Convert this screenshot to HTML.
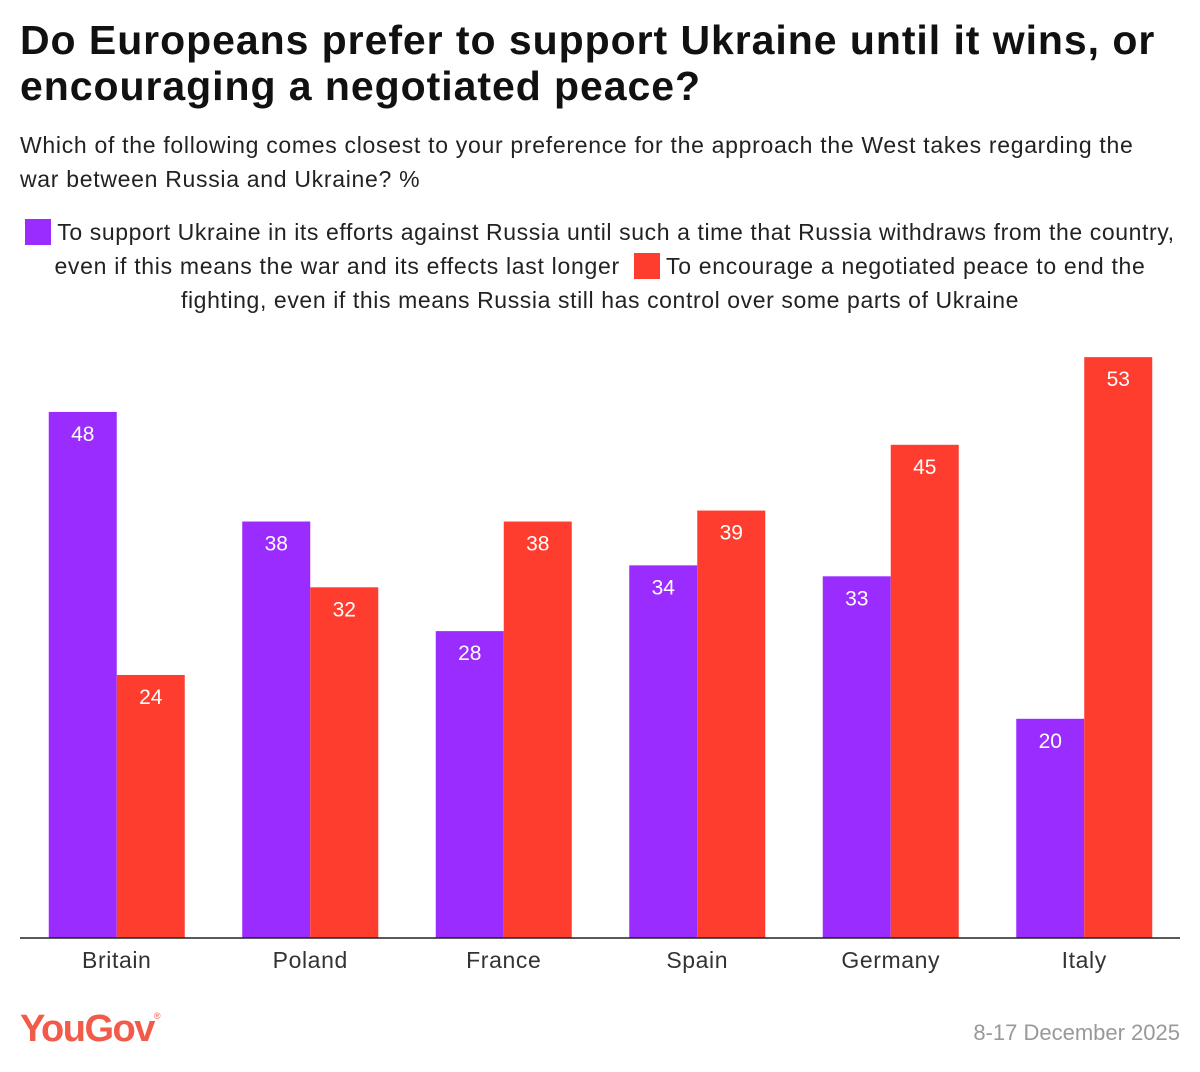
<!DOCTYPE html>
<html><head><meta charset="utf-8">
<style>
body{margin:0;background:#fff;font-family:"Liberation Sans",sans-serif;color:#1a1a1a}
#wrap{position:relative;width:1200px;height:1072px;overflow:hidden}
.t{position:absolute;white-space:nowrap}
h1{position:absolute;left:20px;top:17px;margin:0;font-size:41px;line-height:46px;font-weight:bold;color:#111;letter-spacing:0.95px}
.sub{left:20px;font-size:23px;color:#222;letter-spacing:0.7px}
.leg{font-size:23px;color:#222;width:1200px;text-align:center;left:0;letter-spacing:0.6px}
.box{display:inline-block;width:26px;height:26px;vertical-align:-5px;margin-right:6px}
</style></head><body>
<div id="wrap">
<h1>Do Europeans prefer to support Ukraine until it wins, or<br>encouraging a negotiated peace?</h1>
<div class="t sub" style="top:132px">Which of the following comes closest to your preference for the approach the West takes regarding the</div>
<div class="t sub" style="top:166px">war between Russia and Ukraine? %</div>
<div class="t leg" style="top:219px"><span class="box" style="background:#9b2cff"></span>To support Ukraine in its efforts against Russia until such a time that Russia withdraws from the country,</div>
<div class="t leg" style="top:253px;letter-spacing:0.7px">even if this means the war and its effects last longer &nbsp;<span class="box" style="background:#ff3d2e"></span>To encourage a negotiated peace to end the</div>
<div class="t leg" style="top:287px">fighting, even if this means Russia still has control over some parts of Ukraine</div>
<svg id="chart" width="1200" height="1072" style="position:absolute;left:0;top:0"></svg>
<div class="t" style="left:20px;top:1008px;font-size:38px;font-weight:bold;color:#f25a4a;letter-spacing:-1.5px">YouGov<sup style="font-size:9px;font-weight:normal;vertical-align:22px">®</sup></div>
<div class="t" style="right:20px;top:1020px;font-size:22px;color:#999">8-17 December 2025</div>
</div>
<script>
const categories=["Britain","Poland","France","Spain","Germany","Italy"];
const supportValues=[48,38,28,34,33,20];
const peaceValues=[24,32,38,39,45,53];
const NS="http://www.w3.org/2000/svg";
const svg=document.getElementById('chart');
const baseY=938, pxPerUnit=10.96, left=20, band=193.5, bw=68;
const y=v=>baseY-v*pxPerUnit;
const xc=i=>left+band*(i+0.5);
function mk(tag,attrs){const e=document.createElementNS(NS,tag);for(const k in attrs)e.setAttribute(k,attrs[k]);svg.appendChild(e);return e;}
categories.forEach((c,i)=>{
  [[supportValues[i],'#9b2cff',-bw,'support'],[peaceValues[i],'#ff3d2e',0,'peace']].forEach(([v,col,off,s])=>{
    const r=mk('rect',{x:xc(i)+off,y:y(v),width:bw,height:v*pxPerUnit,fill:col});
    
    
    const t=mk('text',{x:xc(i)+off+bw/2,y:y(v)+29,'text-anchor':'middle','font-size':21,fill:'#fff','font-family':'Liberation Sans, sans-serif'});
    t.textContent=v;
    
    
  });
  const l=mk('text',{x:xc(i),y:968,'text-anchor':'middle','font-size':23,'letter-spacing':0.6,fill:'#333','font-family':'Liberation Sans, sans-serif'});
  l.textContent=c;
  
  
});
const ax=mk('line',{x1:20,x2:1180,y1:baseY,y2:baseY,stroke:'#222','stroke-width':1.5});


</script>
</body></html>
